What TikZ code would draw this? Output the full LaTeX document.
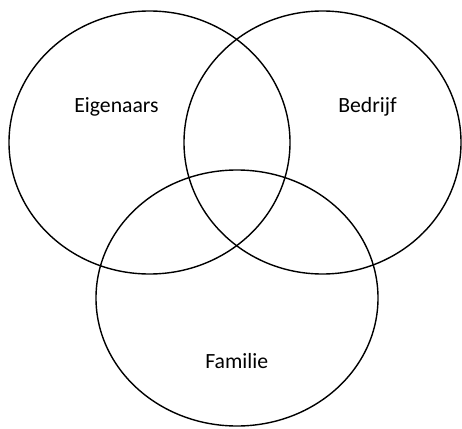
\documentclass[tikz,border=0pt]{standalone}
\usepackage{fontspec}
\setmainfont{Carlito}
\begin{document}
\begin{tikzpicture}[x=1pt,y=-1pt,
  setring/.style={draw=black,line width=1.4pt},
  setlabel/.style={anchor=base,inner sep=0pt,font=\fontsize{21.7}{26}\selectfont}]
\useasboundingbox (0,0) rectangle (462,428);
\draw[setring] (149.5,142.5) ellipse [x radius=140.5, y radius=131.5];
\draw[setring] (322.5,142.5) ellipse [x radius=138.5, y radius=131.5];
\draw[setring] (237,298) ellipse [x radius=141, y radius=128];
\node[setlabel] (eig) at (116.5,112.3) {Eigenaars};
\node[setlabel] (bed) at (367.5,112.3) {Bedrijf};
\node[setlabel] (fam) at (236.7,368) {Familie};
\end{tikzpicture}
\end{document}
